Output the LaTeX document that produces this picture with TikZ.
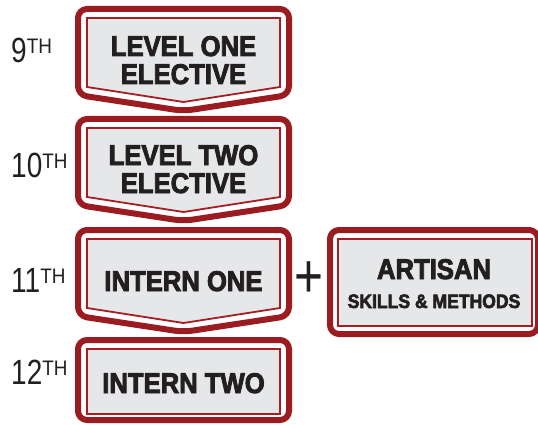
\documentclass[tikz,border=0pt]{standalone}
\usepackage{fontspec}
\newfontfamily\boxfont{Liberation Sans}[FakeStretch=0.9, BoldFeatures={FakeBold=3}]
\newfontfamily\gradefont{Liberation Sans}[FakeStretch=0.8]
\newfontfamily\thfont{Liberation Sans}[FakeStretch=0.9]
\definecolor{darkred}{HTML}{9B1C20}
\definecolor{innerred}{HTML}{A61E23}
\definecolor{boxgray}{HTML}{E6E7E9}
\definecolor{inkblack}{HTML}{231F20}
\begin{document}
\begin{tikzpicture}[x=1pt,y=-1pt,
  outerline/.style={draw=darkred, line width=6pt, fill=white, rounded corners=9pt, line join=round},
  innerline/.style={draw=innerred, line width=1.8pt, fill=boxgray},
  boxtext/.style={font=\boxfont\bfseries\fontsize{28.5}{28.5}\selectfont, inner sep=0pt, anchor=base, text=inkblack},
  smalltext/.style={font=\boxfont\bfseries\fontsize{19.5}{19.5}\selectfont, inner sep=0pt, anchor=base, text=inkblack},
  gradetext/.style={font=\gradefont\fontsize{35}{35}\selectfont, inner sep=0pt, anchor=base west, text=inkblack},
  plustext/.style={font=\gradefont\fontsize{62}{62}\selectfont, inner sep=0pt, anchor=base, text=inkblack}]
\useasboundingbox (0,0) rectangle (538,425);
\clip (0,0) rectangle (538,425);
\newcommand\thsup{\raisebox{9pt}{\thfont\fontsize{21}{21}\selectfont TH}}

% chevron boxes
\foreach \T in {6,116,227}{
  \draw[outerline] (78,\T+3) -- (289,\T+3) -- (289,\T+89) -- (183.5,\T+105) -- (78,\T+89) -- cycle;
  \draw[innerline] (87,\T+12) -- (280,\T+12) -- (280,\T+81) -- (183.5,\T+96) -- (87,\T+81) -- cycle;
}
% last box
\draw[outerline] (78,340) rectangle (289,420);
\draw[innerline] (87,349) rectangle (280,414);
% artisan box
\draw[outerline] (330,230) rectangle (538,334);
\draw[innerline] (338,239) rectangle (532,326);

% box texts
\node[boxtext] (t1a) at (183.5,56) {LEVEL ONE};
\node[boxtext] (t1b) at (183.5,84) {ELECTIVE};
\node[boxtext] (t2a) at (183.5,165) {LEVEL TWO};
\node[boxtext] (t2b) at (183.5,193) {ELECTIVE};
\node[boxtext] (t3) at (183.5,291) {INTERN ONE};
\node[boxtext] (t4) at (183.5,393) {INTERN TWO};
\node[boxtext] (art) at (434,279) {ARTISAN};
\node[smalltext] (skl) at (434,308) {SKILLS \& METHODS};

% plus
\node[plustext] (plus) at (309,297) {+};

% grade labels
\node[gradetext] (g9) at (11,63) {9\thsup};
\node[gradetext] (g10) at (11,177) {10\thsup};
\node[gradetext] (g11) at (11,292) {11\thsup};
\node[gradetext] (g12) at (11,384) {12\thsup};
\end{tikzpicture}
\end{document}
